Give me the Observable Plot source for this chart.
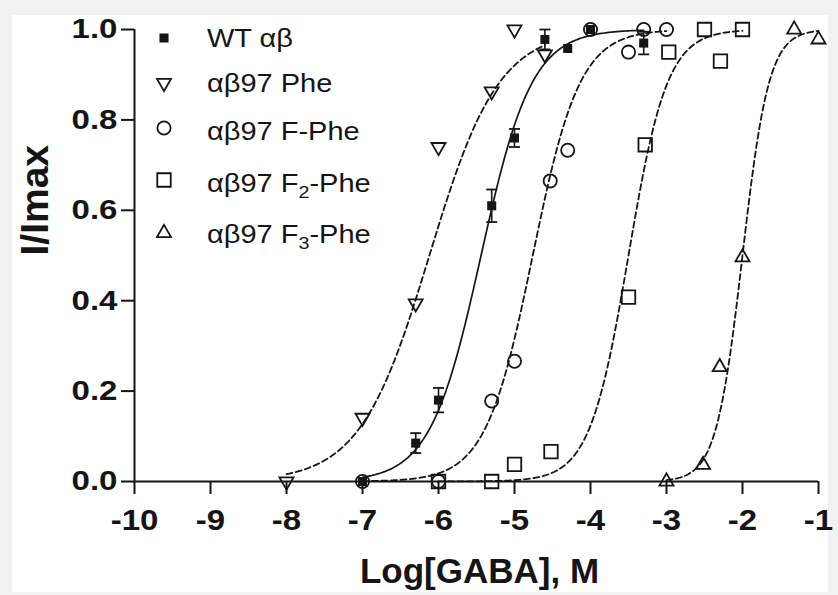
<!DOCTYPE html>
<html><head><meta charset="utf-8">
<script src="https://cdn.jsdelivr.net/npm/d3@7"></script>
<script src="https://cdn.jsdelivr.net/npm/@observablehq/plot@0.6"></script>
<style>
html,body{margin:0;padding:0;background:#f2f2f2;}
#wrap{position:relative;width:838px;height:595px;overflow:hidden;}
#paper{position:absolute;left:12px;top:15px;width:816px;height:577px;background:#fff;}
#chart{position:absolute;left:0;top:0;}
#legend{position:absolute;left:0;top:0;}
</style></head><body>
<div id="wrap"><div id="paper"></div><div id="chart"></div><svg id="legend" width="838" height="595"></svg></div>
<script>
// ---- data ----
const xTicks = [-10, -9, -8, -7, -6, -5, -4, -3, -2, -1];
const yTicks = [0, 0.2, 0.4, 0.6, 0.8, 1.0];
const seriesNames = ["WT αβ", "αβ97 Phe", "αβ97 F-Phe", "αβ97 F2-Phe", "αβ97 F3-Phe"];

const wtX   = [-7, -6.3, -6, -5.3, -5, -4.6, -4.3, -4, -3.3];
const wtY   = [0, 0.085, 0.18, 0.61, 0.76, 0.978, 0.958, 1.0, 0.97];
const wtErr = [0, 0.022, 0.027, 0.036, 0.02, 0.022, 0, 0, 0.025];

const pheX = [-8, -7, -6.3, -6, -5.3, -5, -4.6];
const pheY = [0, 0.141, 0.394, 0.74, 0.863, 1.0, 0.945];

const fpheX = [-7, -6, -5.3, -5, -4.53, -4.3, -4, -3.5, -3.3, -3];
const fpheY = [0, 0, 0.178, 0.266, 0.665, 0.733, 1.0, 0.95, 1.0, 1.0];

const f2pheX = [-6, -5.3, -5, -4.52, -3.5, -3.28, -2.97, -2.5, -2.29, -2];
const f2pheY = [0, 0, 0.038, 0.066, 0.408, 0.745, 0.95, 1.0, 0.93, 1.0];

const f3pheX = [-3, -2.52, -2.3, -2, -1.32, -1];
const f3pheY = [0, 0.037, 0.253, 0.496, 1.0, 0.978];

// Hill-fit parameters of the drawn curves (log EC50, Hill slope, range)
const fitEC50 = [-5.44, -6.12, -4.76, -3.50, -2.00];
const fitHill = [1.3, 0.95, 1.4, 1.7, 2.5];
const fitFrom = [-7, -8, -7, -6, -3];
const fitTo   = [-3.3, -4.6, -3, -2, -1];

// ---- build tables ----
const zip = (xs, ys, s) => xs.map((x, i) => ({x, y: ys[i], s}));
const wt = wtX.map((x, i) => ({x, y: wtY[i], e: wtErr[i]}));
const phe = zip(pheX, pheY, 1);
const fphe = zip(fpheX, fpheY, 2);
const f2phe = zip(f2pheX, f2pheY, 3);
const f3phe = zip(f3pheX, f3pheY, 4);
const curves = fitEC50.map((ec, i) => {
  const pts = [];
  const n = Math.round((fitTo[i] - fitFrom[i]) / 0.02);
  for (let k = 0; k <= n; k++) {
    const x = fitFrom[i] + (fitTo[i] - fitFrom[i]) * k / n;
    pts.push({x, y: 1 / (1 + Math.pow(10, (ec - x) * fitHill[i])), s: i});
  }
  return pts;
});
const dashed = curves.slice(1).flat();
const errs = wt.filter(d => d.e > 0);

const capSymbol = {draw(ctx, size) { const w = Math.sqrt(size / Math.PI); ctx.moveTo(-w, 0); ctx.lineTo(w, 0); }};
const ink = "#151515";
const font = "'Liberation Sans', Arial, Helvetica, sans-serif";

const plot = Plot.plot({
  width: 838, height: 595,
  marginLeft: 134, marginRight: 20, marginTop: 29, marginBottom: 114,
  style: {background: "transparent", fontFamily: font, color: ink, overflow: "visible"},
  x: {domain: [-10, -1]},
  y: {domain: [0, 1]},
  marks: [
    Plot.axisX({ticks: xTicks, tickSize: 13, tickPadding: 14, tickFormat: d => String(d), fontSize: 30, fontWeight: "bold", strokeWidth: 2, label: null}),
    Plot.axisY({ticks: yTicks, tickSize: 13, tickPadding: 4, tickFormat: d3.format(".1f"), fontSize: 28, fontWeight: "bold", strokeWidth: 2, label: null}),
    Plot.ruleY([yTicks[0]], {stroke: ink, strokeWidth: 2}),
    Plot.ruleX([xTicks[0]], {stroke: ink, strokeWidth: 2}),
    Plot.line(dashed, {x: "x", y: "y", z: "s", stroke: ink, strokeWidth: 1.8, strokeDasharray: "6,3.5"}),
    Plot.line(curves[0], {x: "x", y: "y", stroke: ink, strokeWidth: 1.7}),
    Plot.ruleX(errs, {x: "x", y1: d => d.y - d.e, y2: d => d.y + d.e, stroke: ink, strokeWidth: 1.6}),
    Plot.dot(errs, {x: "x", y: d => d.y + d.e, symbol: capSymbol, r: 5.5, stroke: ink, strokeWidth: 1.8}),
    Plot.dot(errs, {x: "x", y: d => d.y - d.e, symbol: capSymbol, r: 5.5, stroke: ink, strokeWidth: 1.8}),
    Plot.dot(phe, {x: "x", y: "y", symbol: "triangle", rotate: 180, r: 5.2, stroke: ink, strokeWidth: 1.8, fill: "none"}),
    Plot.dot(fphe, {x: "x", y: "y", symbol: "circle", r: 6.6, stroke: ink, strokeWidth: 1.8, fill: "none"}),
    Plot.dot(f2phe, {x: "x", y: "y", symbol: "square", r: 7.6, stroke: ink, strokeWidth: 1.8, fill: "none"}),
    Plot.dot(f3phe, {x: "x", y: "y", symbol: "triangle", r: 5.2, stroke: ink, strokeWidth: 1.8, fill: "none"}),
    Plot.dot(wt, {x: "x", y: "y", symbol: "square", r: 5.1, fill: ink, stroke: "none"}),
    Plot.text(["Log[GABA], M"], {text: d => d, frameAnchor: "bottom", lineAnchor: "middle", dy: 90, dx: 3, fontSize: 35, fontWeight: "bold", fill: ink, ariaLabel: "x-title"}),
    Plot.text(["I/Imax"], {text: d => d, frameAnchor: "left", lineAnchor: "middle", rotate: -90, dx: -99, fontSize: 39, fontWeight: "bold", fill: ink, ariaLabel: "y-title"})
  ]
});
document.getElementById("chart").appendChild(plot);

// horizontal stretch of the scanned lettering
const stretch = (sel, k) => d3.select(plot).selectAll(sel).each(function () {
  const t = this.getAttribute("transform") || "";
  this.setAttribute("transform", t + ` scale(${k},1)`);
});
stretch('g[aria-label="x-axis tick label"] text', 1.1);
stretch('g[aria-label="y-axis tick label"] text', 1.18);
stretch('g[aria-label="x-title"] text', 1.06);

// ---- legend ----
const leg = d3.select("#legend");
const legY = [38, 83, 128, 180, 233];
const legBase = [47, 92, 140, 192, 243];
const legSym = [
  {type: d3.symbolSquare, size: 82, fill: ink, stroke: "none", rot: 0},
  {type: d3.symbolTriangle, size: 85, fill: "none", stroke: ink, rot: 180},
  {type: d3.symbolCircle, size: 137, fill: "none", stroke: ink, rot: 0},
  {type: d3.symbolSquare, size: 181, fill: "none", stroke: ink, rot: 0},
  {type: d3.symbolTriangle, size: 85, fill: "none", stroke: ink, rot: 0}
];
seriesNames.forEach((name, i) => {
  const s = legSym[i];
  leg.append("path")
    .attr("d", d3.symbol(s.type, s.size)())
    .attr("transform", `translate(164,${legY[i]}) rotate(${s.rot})`)
    .attr("fill", s.fill).attr("stroke", s.stroke).attr("stroke-width", 1.8);
  const t = leg.append("text")
    .attr("transform", `translate(207,${legBase[i]}) scale(1.16,1)`)
    .attr("font-family", font).attr("font-size", 25).attr("fill", ink);
  const m = name.match(/^(.*F)(\d)(-Phe)$/);
  if (m) {
    t.append("tspan").text(m[1]);
    t.append("tspan").text(m[2]).attr("font-size", 17).attr("dy", 6);
    t.append("tspan").text(m[3]).attr("dy", -6);
  } else {
    t.text(name);
  }
});
</script>
</body></html>
